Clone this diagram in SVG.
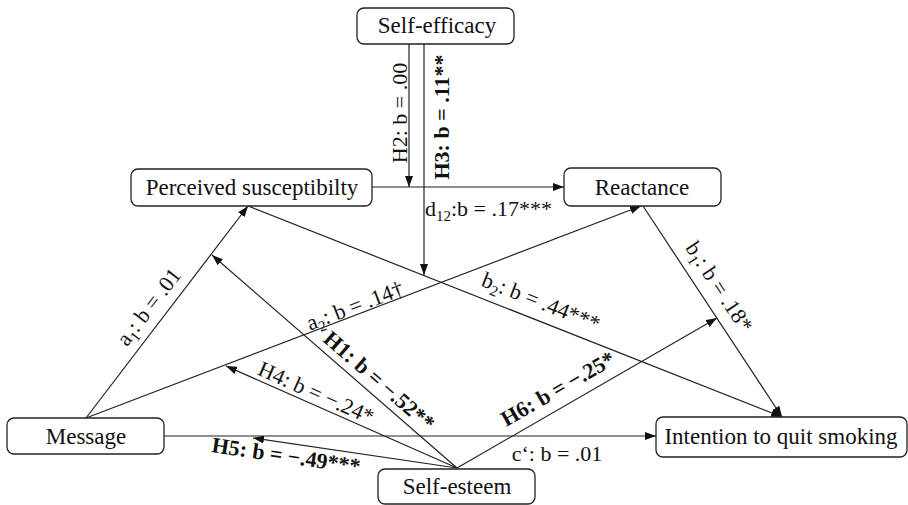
<svg xmlns="http://www.w3.org/2000/svg" width="908" height="505" viewBox="0 0 908 505">
<defs>
<marker id="arr" markerUnits="userSpaceOnUse" markerWidth="11" markerHeight="8" refX="11" refY="4" orient="auto">
<path d="M0,0 L11,4 L0,8 z" fill="#111"/>
</marker>
<style>
.box{fill:#fff;stroke:#222;stroke-width:1.3}
.nt{font-family:"Liberation Serif","Times New Roman",serif;font-size:23px;fill:#111;text-anchor:middle}
.ln{fill:none;stroke:#222;stroke-width:1.2}
.ar{marker-end:url(#arr)}
.lb{font-family:"Liberation Serif","Times New Roman",serif;font-size:22px;fill:#111;text-anchor:middle}
.bd{font-weight:bold}
.sub{font-size:15px}
</style>
</defs>
<rect width="908" height="505" fill="#fff"/>
<g id="connectors">
<line class="ln ar" x1="409" y1="44" x2="409" y2="187"/>
<line class="ln ar" x1="424" y1="44" x2="424" y2="275"/>
<line class="ln ar" x1="372" y1="187" x2="564" y2="187"/>
<line class="ln ar" x1="86" y1="418" x2="248" y2="206"/>
<line class="ln ar" x1="86" y1="418" x2="641" y2="206"/>
<line class="ln ar" x1="248" y1="206" x2="782" y2="417"/>
<line class="ln ar" x1="643" y1="206" x2="782" y2="417"/>
<line class="ln ar" x1="164" y1="436" x2="656" y2="436"/>
<line class="ln ar" x1="457" y1="468" x2="212" y2="255"/>
<line class="ln ar" x1="457" y1="468" x2="226" y2="366"/>
<line class="ln ar" x1="457" y1="468" x2="253" y2="438"/>
<line class="ln ar" x1="457" y1="468" x2="717" y2="318"/>
</g>
<g id="node-self-efficacy">
<rect class="box" x="357" y="8" width="157" height="36" rx="7"/>
<text class="nt" x="437" y="33">Self-efficacy</text>
</g>
<g id="node-perceived-susceptibility">
<rect class="box" x="131" y="169" width="241" height="37" rx="7"/>
<text class="nt" x="252" y="195">Perceived susceptibilty</text>
</g>
<g id="node-reactance">
<rect class="box" x="564" y="168" width="157" height="38" rx="7"/>
<text class="nt" x="642" y="195">Reactance</text>
</g>
<g id="node-message">
<rect class="box" x="7" y="418" width="157" height="36" rx="7"/>
<text class="nt" x="86" y="444">Message</text>
</g>
<g id="node-self-esteem">
<rect class="box" x="378" y="469" width="157" height="35" rx="7"/>
<text class="nt" x="457" y="494">Self-esteem</text>
</g>
<g id="node-intention">
<rect class="box" x="656" y="417" width="251" height="40" rx="7"/>
<text class="nt" x="781" y="444">Intention to quit smoking</text>
</g>
<g id="labels">
<text class="lb" transform="translate(400,113) rotate(-90)" y="7">H2: b = .00</text>
<text class="lb bd" transform="translate(442,117) rotate(-90)" y="7">H3: b = .11**</text>
<text class="lb" x="425" y="216" style="text-anchor:start">d<tspan class="sub" dy="5">12</tspan><tspan dy="-5">:b = .17***</tspan></text>
<text class="lb" transform="translate(149,307) rotate(-52.6)" y="7">a<tspan class="sub" dy="5">1</tspan><tspan dy="-5">: b = .01</tspan></text>
<text class="lb" transform="translate(355,306) rotate(-20.9)" y="7">a<tspan class="sub" dy="5">2</tspan><tspan dy="-5">: b = .14†</tspan></text>
<text class="lb bd" transform="translate(379,381) rotate(41.1)" y="7">H1: b = −.52**</text>
<text class="lb" transform="translate(316,393) rotate(23.9)" y="7">H4: b = −.24*</text>
<text class="lb bd" transform="translate(286,456) rotate(8.4)" y="7">H5: b = −.49***</text>
<text class="lb bd" transform="translate(558,389) rotate(-30)" y="7">H6: b = −.25*</text>
<text class="lb" transform="translate(541,302) rotate(21.6)" y="7">b<tspan class="sub" dy="5">2</tspan><tspan dy="-5">: b = .44***</tspan></text>
<text class="lb" transform="translate(719,287) rotate(56.6)" y="7">b<tspan class="sub" dy="5">1</tspan><tspan dy="-5">: b = .18*</tspan></text>
<text class="lb" x="557" y="461">c‘: b = .01</text>
</g>
</svg>
